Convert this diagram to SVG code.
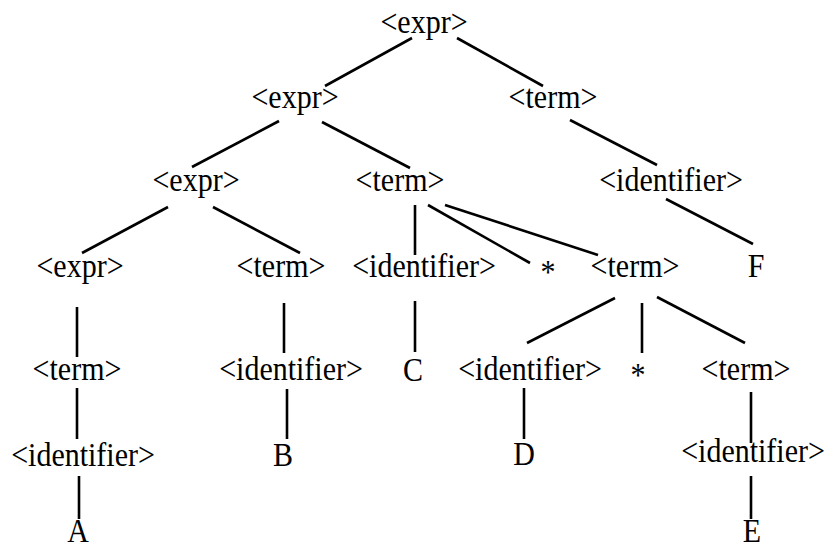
<svg xmlns="http://www.w3.org/2000/svg" width="825" height="550" viewBox="0 0 825 550">
<style>
text{font-family:"Liberation Serif","Times New Roman",serif;font-size:30px;fill:#000;text-anchor:middle}
line{stroke:#000;stroke-width:2.6;stroke-linecap:butt}
</style>
<rect width="825" height="550" fill="#fff"/>
<g id="connectors">
<line x1="412" y1="38" x2="325" y2="86"/>
<line x1="457" y1="38" x2="543" y2="86"/>
<line x1="279" y1="121" x2="192" y2="167"/>
<line x1="322" y1="122" x2="410" y2="168"/>
<line x1="570" y1="120" x2="657" y2="165"/>
<line x1="168" y1="207" x2="82" y2="253"/>
<line x1="213" y1="207" x2="300" y2="253"/>
<line x1="415" y1="205" x2="415" y2="255"/>
<line x1="428" y1="205" x2="530" y2="263"/>
<line x1="445" y1="205" x2="598" y2="255"/>
<line x1="666" y1="199" x2="753" y2="244"/>
<line x1="77" y1="307" x2="77" y2="357"/>
<line x1="284" y1="303" x2="284" y2="353"/>
<line x1="415" y1="301" x2="415" y2="352"/>
<line x1="615" y1="298" x2="527" y2="343"/>
<line x1="642" y1="303" x2="642" y2="353"/>
<line x1="657" y1="297" x2="745" y2="343"/>
<line x1="77" y1="388" x2="77" y2="439"/>
<line x1="287" y1="389" x2="287" y2="439"/>
<line x1="524" y1="388" x2="524" y2="439"/>
<line x1="751" y1="392" x2="751" y2="443"/>
<line x1="79" y1="476" x2="79" y2="519"/>
<line x1="751" y1="476" x2="751" y2="519"/>
</g>
<g id="n0"><text transform="translate(424,33) scale(1,1.1)">&lt;expr&gt;</text></g>
<g id="n1"><text transform="translate(295,108) scale(1,1.1)">&lt;expr&gt;</text></g>
<g id="n2"><text transform="translate(553,108) scale(1,1.1)">&lt;term&gt;</text></g>
<g id="n3"><text transform="translate(196,191) scale(1,1.1)">&lt;expr&gt;</text></g>
<g id="n4"><text transform="translate(400,191) scale(1,1.1)">&lt;term&gt;</text></g>
<g id="n5"><text transform="translate(671,191) scale(1,1.1)">&lt;identifier&gt;</text></g>
<g id="n6"><text transform="translate(80,277) scale(1,1.1)">&lt;expr&gt;</text></g>
<g id="n7"><text transform="translate(281,277) scale(1,1.1)">&lt;term&gt;</text></g>
<g id="n8"><text transform="translate(424,277) scale(1,1.1)">&lt;identifier&gt;</text></g>
<g id="n9"><text transform="translate(548,283) scale(1,1.1)">*</text></g>
<g id="n10"><text transform="translate(635,277) scale(1,1.1)">&lt;term&gt;</text></g>
<g id="n11"><text transform="translate(756,277) scale(1,1.1)">F</text></g>
<g id="n12"><text transform="translate(77,380) scale(1,1.1)">&lt;term&gt;</text></g>
<g id="n13"><text transform="translate(291,380) scale(1,1.1)">&lt;identifier&gt;</text></g>
<g id="n14"><text transform="translate(413,381) scale(1,1.1)">C</text></g>
<g id="n15"><text transform="translate(530,380) scale(1,1.1)">&lt;identifier&gt;</text></g>
<g id="n16"><text transform="translate(638,386) scale(1,1.1)">*</text></g>
<g id="n17"><text transform="translate(746,380) scale(1,1.1)">&lt;term&gt;</text></g>
<g id="n18"><text transform="translate(83,466) scale(1,1.1)">&lt;identifier&gt;</text></g>
<g id="n19"><text transform="translate(283,466) scale(1,1.1)">B</text></g>
<g id="n20"><text transform="translate(524,465) scale(1,1.1)">D</text></g>
<g id="n21"><text transform="translate(753,462) scale(1,1.1)">&lt;identifier&gt;</text></g>
<g id="n22"><text transform="translate(78,542) scale(1,1.1)">A</text></g>
<g id="n23"><text transform="translate(752,542) scale(1,1.1)">E</text></g>
</svg>
